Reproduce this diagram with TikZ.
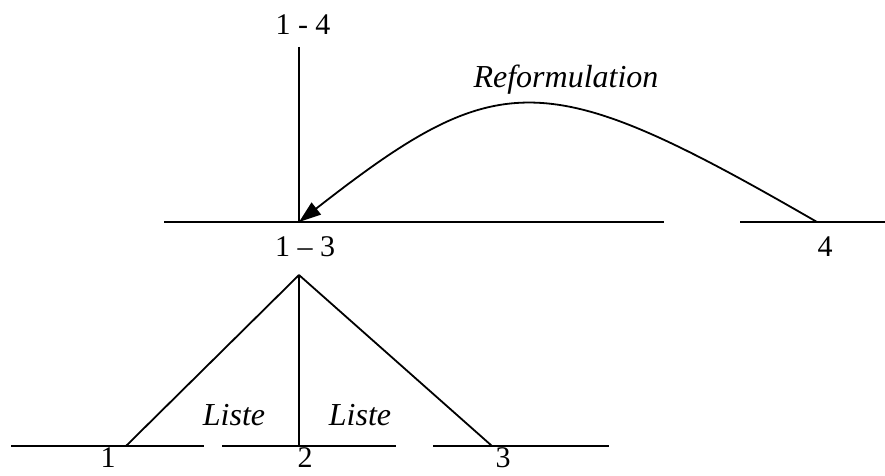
\documentclass[tikz,border=0pt]{standalone}
\usepackage{fontspec}
\setmainfont{Liberation Serif}
\usetikzlibrary{arrows.meta,positioning}

\begin{document}
\begin{tikzpicture}[x=1pt,y=1pt,
        bar/.style={line width=1.8pt},
        branch/.style={line width=1.8pt},
        lbl/.style={anchor=base, inner sep=0pt, font=\fontsize{30}{36}\selectfont},
        note/.style={anchor=base, inner sep=0pt, font=\fontsize{32}{38}\selectfont\itshape}
      ]
        \useasboundingbox (0,0) rectangle (885,475);
        % bars
        \coordinate (b13w) at (164,253); \coordinate (b13e) at (664,253);
        \coordinate (b4w) at (740,253);  \coordinate (b4e) at (885,253);
        \coordinate (b1w) at (11,29);    \coordinate (b1e) at (204,29);
        \coordinate (b2w) at (222,29);   \coordinate (b2e) at (396,29);
        \coordinate (b3w) at (433,29);   \coordinate (b3e) at (609,29);
        \draw[bar] (b13w) -- (b13e);
        \draw[bar] (b4w) -- (b4e);
        \draw[bar] (b1w) -- (b1e);
        \draw[bar] (b2w) -- (b2e);
        \draw[bar] (b3w) -- (b3e);
        % joints
        \coordinate (top14) at (299,428);
        \coordinate (k13) at (299,253);
        \coordinate (apex) at (299,200);
        \coordinate (k4) at (817,253);
        \coordinate (k1) at (126,29);
        \coordinate (k2) at (299,29);
        \coordinate (k3) at (492,29);
        % labels
        \node[lbl] (l14) at (303,440) {1 - 4};
        \node[lbl] (l13) at (305,219) {1 -- 3};
        \node[lbl] (l4) at (825,219) {4};
        \node[lbl] (l1) at (108,8) {1};
        \node[lbl] (l2) at (305,8) {2};
        \node[lbl] (l3) at (503,8) {3};
        \node[note] (reform) at (566,388) {Reformulation};
        \node[note] (liste1) at (234,50) {Liste};
        \node[note] (liste2) at (360,50) {Liste};
        % tree
        \draw[branch] (top14) -- (k13);
        \draw[branch] (apex) -- (k1);
        \draw[branch] (apex) -- (k2);
        \draw[branch] (apex) -- (k3);
        \draw[branch, -{Triangle[length=22pt,width=15pt]}] (k4) .. controls +(150:314) and +(38:255) .. (k13);
      \end{tikzpicture}
\end{document}
